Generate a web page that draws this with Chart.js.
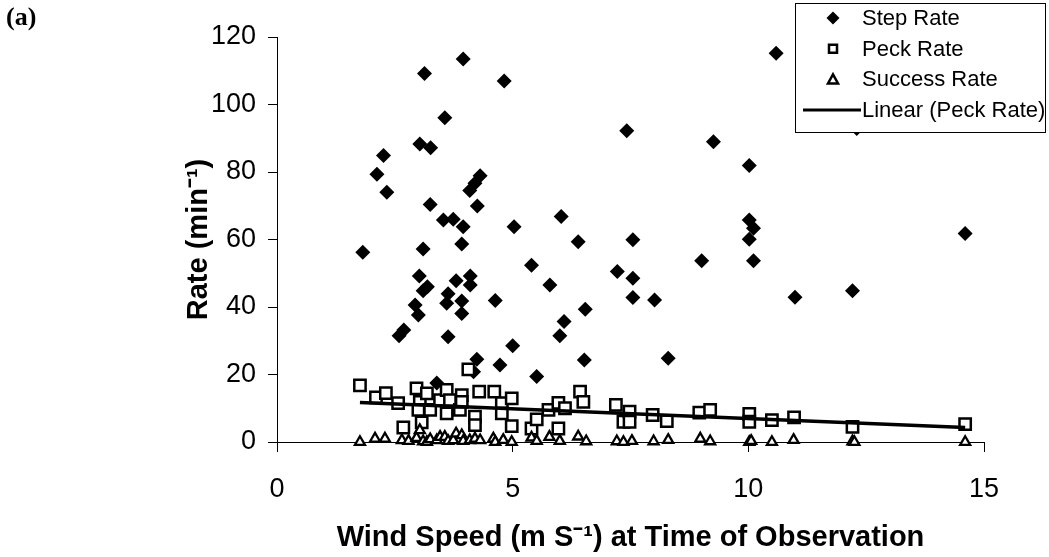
<!DOCTYPE html>
<html>
<head>
<meta charset="utf-8">
<script src="https://cdn.jsdelivr.net/npm/chart.js@4/dist/chart.umd.min.js"></script>
<style>
  body { margin: 0; background: #fff; }
  #wrap { width: 1049px; height: 557px; }
</style>
</head>
<body>
<div id="wrap"><canvas id="rateChart" width="1049" height="557"></canvas></div>
<script>
// wind speed (m/s) and rates
const stepX = [1.82, 2.12, 2.26, 2.33, 2.59, 2.69, 2.93, 3.0, 3.02, 3.03, 3.1, 3.1, 3.13, 3.19, 3.25, 3.26, 3.39, 3.53,
  3.56, 3.6, 3.63, 3.63, 3.74, 3.8, 3.92, 3.92, 3.92, 3.95, 3.95, 4.09, 4.1, 4.1, 4.17, 4.2, 4.24, 4.25, 4.31, 4.63,
  4.73, 4.82, 5.0, 5.03, 5.4, 5.51, 5.79, 6.0, 6.03, 6.09, 6.39, 6.52, 6.54, 7.22, 7.42, 7.55, 7.55, 7.55, 8.01, 8.3,
  9.01, 9.26, 10.02, 10.02, 10.11, 10.02, 10.11, 10.59, 10.99, 12.21, 12.3, 14.6];
const stepY = [56.2, 79.3, 84.9, 74.0, 31.5, 33.2, 40.6, 37.6, 49.2, 88.3, 57.2, 44.8, 109.2, 46.0, 70.4, 87.2, 17.5, 65.8,
  96.1, 41.1, 43.9, 31.2, 66.0, 47.8, 58.7, 41.8, 38.1, 63.8, 113.5, 74.5, 49.2, 46.5, 20.8, 76.7, 24.5, 69.9, 78.9, 41.9,
  22.8, 107.0, 28.5, 63.8, 52.4, 19.4, 46.5, 31.5, 66.8, 35.7, 59.3, 24.3, 39.3, 50.5, 92.2, 59.9, 48.5, 42.8, 42.1, 24.8,
  53.7, 89.0, 81.9, 65.8, 63.3, 60.1, 53.7, 115.2, 42.9, 44.8, 92.9, 61.8];

const peckX = [1.76, 2.1, 2.31, 2.57, 2.68, 2.96, 3.03, 3.07, 3.18, 3.0, 3.25, 3.46, 3.6, 3.6, 3.67, 3.88, 3.92, 3.92,
  4.06, 4.2, 4.2, 4.29, 4.61, 4.77, 4.77, 4.98, 4.98, 5.4, 5.51, 5.76, 5.97, 5.97, 6.11, 6.43, 6.5, 7.19, 7.35, 7.48,
  7.48, 7.97, 8.27, 8.96, 9.19, 10.02, 10.02, 10.5, 10.97, 12.21, 14.6];
const peckY = [16.8, 13.2, 14.5, 11.5, 4.3, 15.9, 11.9, 5.8, 14.4, 9.5, 9.5, 12.4, 15.4, 8.5, 12.4, 9.5, 13.9, 11.9,
  21.5, 7.5, 5.0, 14.9, 14.9, 11.5, 8.5, 12.9, 4.7, 4.0, 6.7, 9.5, 11.6, 4.0, 10.0, 14.9, 11.9, 11.0, 6.0, 9.0,
  6.0, 8.0, 6.2, 8.7, 9.5, 8.3, 6.0, 6.5, 7.3, 4.5, 5.3];

const successX = [1.76, 2.08, 2.29, 2.65, 2.79, 2.96, 3.03, 3.1, 3.18, 3.25, 3.39, 3.46, 3.56, 3.63, 3.74, 3.8, 3.92, 3.95,
  4.09, 4.2, 4.31, 4.59, 4.63, 4.8, 4.98, 5.4, 5.51, 5.78, 6.0, 6.39, 6.56, 7.21, 7.35, 7.53, 7.99, 8.3, 8.98, 9.19,
  10.02, 10.06, 10.5, 10.96, 12.21, 12.25, 14.6];
const successY = [0, 1.0, 1.0, 0.5, 0.3, 1.2, 3.5, 0.2, 0, 0.8, 0.5, 1.5, 1.5, 0.3, 0.5, 2.5, 2.0, 0.3,
  0.5, 1.0, 0.5, 1.0, 0, 0.6, 0, 1.3, 0.3, 1.5, 0.3, 1.6, 0.2, 0.2, 0, 0.3, 0.2, 0.6, 1.0, 0.2,
  0, 0.3, 0, 0.6, 0.2, 0, 0];

// Excel linear trendline of peck rate, end points
const trendX = [1.76, 14.6];
const trendY = [11.7, 4.3];

const xTicks = [0, 5, 10, 15];
const yTicks = [0, 20, 40, 60, 80, 100, 120];

const toPoints = (xs, ys) => xs.map((x, i) => ({ x: x, y: ys[i] }));

const legendItems = [
  { label: "Step Rate", style: "rectRot" },
  { label: "Peck Rate", style: "rect" },
  { label: "Success Rate", style: "triangle" },
  { label: "Linear (Peck Rate)", style: "line" },
];

const tickFont = { family: "'Liberation Sans', Arial, sans-serif", size: 27 };
const titleFont = { family: "'Liberation Sans', Arial, sans-serif", size: 29, weight: "bold" };

const boxLegend = {
  id: "boxLegend",
  afterDraw: (chart) => {
    const ctx = chart.ctx;
    ctx.save();
    // panel label
    ctx.fillStyle = "#000";
    ctx.font = "bold 26px 'Liberation Serif', serif";
    ctx.textAlign = "left";
    ctx.textBaseline = "middle";
    ctx.fillText("(a)", 6, 18);

    // legend box
    const bx = 795, by = 3, bw = 250, bh = 129;
    ctx.fillStyle = "#fff";
    ctx.fillRect(bx, by, bw, bh);
    ctx.strokeStyle = "#000";
    ctx.lineWidth = 1;
    ctx.strokeRect(bx + 0.5, by + 0.5, bw, bh);

    ctx.font = "22px 'Liberation Sans', Arial, sans-serif";
    legendItems.forEach((item, i) => {
      const cy = 18 + i * 30.7;
      const cx = 833;
      ctx.fillStyle = "#000";
      ctx.strokeStyle = "#000";
      ctx.beginPath();
      if (item.style === "rectRot") {
        ctx.moveTo(cx, cy - 6.5);
        ctx.lineTo(cx + 6.5, cy);
        ctx.lineTo(cx, cy + 6.5);
        ctx.lineTo(cx - 6.5, cy);
        ctx.closePath();
        ctx.fill();
      } else if (item.style === "rect") {
        ctx.lineWidth = 2.5;
        ctx.rect(cx - 4, cy - 4, 8, 8);
        ctx.stroke();
      } else if (item.style === "triangle") {
        ctx.lineWidth = 2.5;
        ctx.moveTo(cx, cy - 5);
        ctx.lineTo(cx + 5, cy + 4);
        ctx.lineTo(cx - 5, cy + 4);
        ctx.closePath();
        ctx.stroke();
      } else {
        ctx.lineWidth = 3;
        ctx.moveTo(803, cy);
        ctx.lineTo(861, cy);
        ctx.stroke();
      }
      ctx.fillText(item.label, 862, cy + 1);
    });
    ctx.restore();
  },
};

const ctx = document.getElementById("rateChart").getContext("2d");

new Chart(ctx, {
  type: "scatter",
  data: {
    datasets: [
      {
        type: "line",
        label: "Linear (Peck Rate)",
        data: toPoints(trendX, trendY),
        borderColor: "#000",
        borderWidth: 3.5,
        pointRadius: 0,
        fill: false,
        clip: false,
        order: 0,
      },
      {
        label: "Success Rate",
        data: toPoints(successX, successY),
        pointStyle: "triangle",
        pointRadius: 5.8,
        borderWidth: 2.3,
        borderColor: "#000",
        backgroundColor: "#fff",
        clip: false,
        order: 1,
      },
      {
        label: "Peck Rate",
        data: toPoints(peckX, peckY),
        pointStyle: "rect",
        pointRadius: 8,
        borderWidth: 2.5,
        borderColor: "#000",
        backgroundColor: "#fff",
        clip: false,
        order: 2,
      },
      {
        label: "Step Rate",
        data: toPoints(stepX, stepY),
        pointStyle: "rectRot",
        pointRadius: 7.5,
        borderWidth: 0,
        backgroundColor: "#000",
        clip: false,
        order: 3,
      },
    ],
  },
  options: {
    responsive: false,
    animation: false,
    events: [],
    layout: { padding: { top: 37, right: 65, left: 0, bottom: 0 } },
    plugins: {
      legend: { display: false },
      tooltip: { enabled: false },
    },
    scales: {
      x: {
        type: "linear",
        min: 0,
        max: 15,
        afterBuildTicks: (scale) => {
          scale.ticks = xTicks.map((v) => ({ value: v }));
        },
        afterFit: (scale) => {
          scale.height = 115;
        },
        grid: { drawOnChartArea: false, drawTicks: true, tickLength: 10, color: "#000" },
        border: { color: "#000", width: 1 },
        ticks: { color: "#000", font: tickFont, padding: 21, maxRotation: 0 },
        title: {
          display: true,
          text: "Wind Speed (m S\u207B\u00B9) at Time of Observation",
          color: "#000",
          font: titleFont,
          padding: { top: 0, bottom: 2 },
        },
      },
      y: {
        type: "linear",
        min: 0,
        max: 120,
        afterBuildTicks: (scale) => {
          scale.ticks = yTicks.map((v) => ({ value: v }));
        },
        afterFit: (scale) => {
          scale.width = 277;
        },
        grid: { drawOnChartArea: false, drawTicks: true, tickLength: 9, color: "#000" },
        border: { color: "#000", width: 1 },
        ticks: { color: "#000", font: tickFont, padding: 12 },
        title: {
          display: true,
          text: "Rate (min\u207B\u00B9)",
          color: "#000",
          font: titleFont,
          padding: { top: 182, bottom: 0 },
        },
      },
    },
  },
  plugins: [boxLegend],
});
</script>
</body>
</html>
